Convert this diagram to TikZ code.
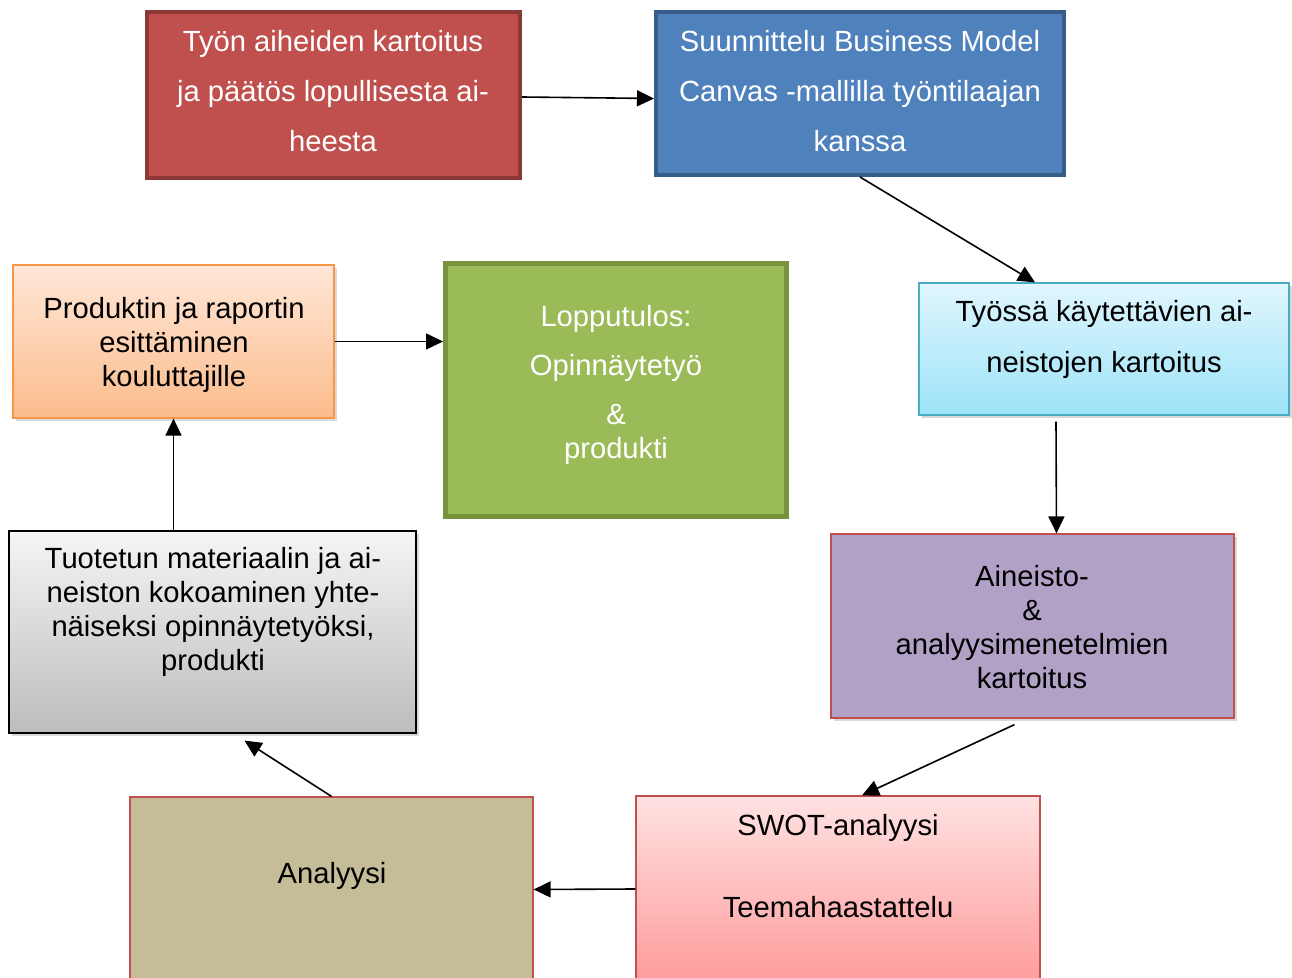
\documentclass[tikz,border=0pt]{standalone}
\usepackage{fontspec}
\setmainfont{Liberation Sans}
\usepackage{tikz}
\usetikzlibrary{positioning}
\usetikzlibrary{arrows.meta}
\usetikzlibrary{shadows}
\usepackage{xcolor}
\definecolor{punainen}{HTML}{C0504D}
\definecolor{tpunainen}{HTML}{8C3836}
\definecolor{sininen}{HTML}{4F81BD}
\definecolor{tsininen}{HTML}{385D8A}
\definecolor{vihrea}{HTML}{9BBB59}
\definecolor{tvihrea}{HTML}{77933C}
\definecolor{syaani}{HTML}{4BACC6}
\definecolor{syaaniyla}{HTML}{E0F6FD}
\definecolor{syaaniala}{HTML}{9DE3F8}
\definecolor{violetti}{HTML}{B2A1C7}
\definecolor{oranssi}{HTML}{F79646}
\definecolor{oranssiyla}{HTML}{FFE7D8}
\definecolor{oranssiala}{HTML}{FBBC8B}
\definecolor{pinkkiyla}{HTML}{FFE2E2}
\definecolor{pinkkiala}{HTML}{FF9C9C}
\definecolor{khaki}{HTML}{C4BD97}
\tikzset{
  laatikko/.style={draw, rectangle, inner sep=0pt},
  paksu/.style={laatikko, line width=2pt},
  ohut/.style={laatikko, line width=0.6pt},
  varjo/.style={drop shadow={opacity=0.3, shadow xshift=1.5pt, shadow yshift=-1.5pt}},
  valkoinen/.style={text=white, align=center, font=\fontsize{14.6}{25}\selectfont},
  musta/.style={text=black, align=center, font=\fontsize{14.6}{17}\selectfont},
  nuoli/.style={-{Triangle[length=8.5pt,width=8pt]}, line width=0.8pt}
}

\begin{document}
\begin{tikzpicture}[x=0.5pt,y=-0.5pt]
\clip (0,0) rectangle (1292,978);
%ylarivi
\node [paksu, draw=tpunainen, fill=punainen, minimum width=186.5pt, minimum height=83pt] (aiheet) at (333.5,95) {};
\node [valkoinen] (aiheet-t) at (333,91) {Työn aiheiden kartoitus\\ja päätös lopullisesta ai-\\heesta};
\node [paksu, draw=tsininen, fill=sininen, minimum width=204pt, minimum height=81.5pt] (suunnittelu) at (860,93.5) {};
\node [valkoinen] (suunnittelu-t) at (860,91) {Suunnittelu Business Model\\Canvas -mallilla työntilaajan\\kanssa};
%keskirivi
\node [paksu, line width=2.5pt, draw=tvihrea, fill=vihrea, minimum width=170.5pt, minimum height=126.5pt] (lopputulos) at (616,390) {};
\node [valkoinen, font=\fontsize{14.6}{17}\selectfont] (lopputulos-t) at (616,385) {Lopputulos:\\[7.5pt]Opinnäytetyö\\[7.5pt]\&\\produkti};
\node [ohut, varjo, draw=oranssi, top color=oranssiyla, bottom color=oranssiala, minimum width=160.5pt, minimum height=76.5pt] (esittaminen) at (173.5,341.5) {};
\node [musta] (esittaminen-t) at (174,345) {Produktin ja raportin\\esittäminen\\kouluttajille};
\node [ohut, varjo, draw=syaani, top color=syaaniyla, bottom color=syaaniala, minimum width=185pt, minimum height=66pt] (aineistot) at (1104,349) {};
\node [musta, font=\fontsize{14.6}{25.5}\selectfont] (aineistot-t) at (1104,339) {Työssä käytettävien ai-\\neistojen kartoitus};
%alarivi
\node [ohut, varjo, draw=black, top color=black!4, bottom color=black!26, minimum width=203.5pt, minimum height=101pt] (kokoaminen) at (212.5,632) {};
\node [musta] (kokoaminen-t) at (213,612) {Tuotetun materiaalin ja ai-\\neiston kokoaminen yhte-\\näiseksi opinnäytetyöksi,\\produkti};
\node [ohut, varjo, draw=punainen, fill=violetti, minimum width=201.5pt, minimum height=92pt] (menetelmat) at (1032.5,626) {};
\node [musta] (menetelmat-t) at (1032,627) {Aineisto-\\\&\\analyysimenetelmien\\kartoitus};
\node [ohut, draw=punainen, fill=khaki, minimum width=201.5pt, minimum height=92.5pt] (analyysi) at (331.5,889.5) {};
\node [musta] (analyysi-t) at (332,876) {Analyysi};
\node [ohut, draw=punainen, top color=pinkkiyla, bottom color=pinkkiala, minimum width=202pt, minimum height=93pt] (swot) at (838,889) {};
\node [musta] (swot-t) at (838,866) {SWOT-analyysi\\[24pt]Teemahaastattelu};
%nuolet
\draw [nuoli] ([yshift=-1pt]aiheet.east) -- ([yshift=-2.5pt]suunnittelu.west);
\draw [nuoli] (suunnittelu.south) -- ([xshift=-34.5pt]aineistot.north);
\draw [nuoli] ([xshift=-24pt,yshift=-3pt]aineistot.south) -- ([xshift=12pt]menetelmat.north);
\draw [nuoli] ([xshift=-9pt,yshift=-3pt]menetelmat.south) -- ([xshift=12pt]swot.north);
\draw [nuoli] (swot.west) -- (analyysi.east);
\draw [nuoli] (analyysi.north) -- ([xshift=16pt,yshift=-3.5pt]kokoaminen.south);
\draw [nuoli] (kokoaminen.north -| esittaminen.south) -- (esittaminen.south);
\draw [nuoli] (esittaminen.east) -- (esittaminen.east -| lopputulos.west);
\end{tikzpicture}
\end{document}
